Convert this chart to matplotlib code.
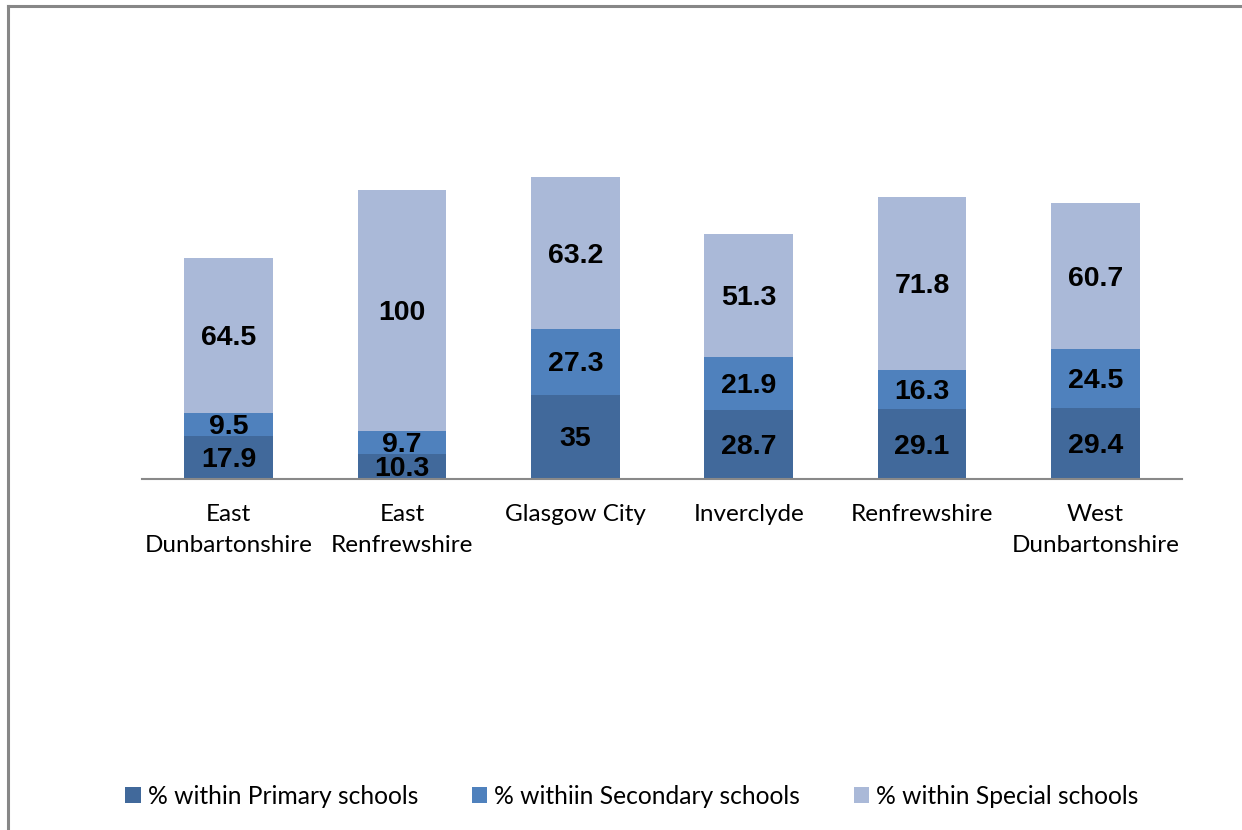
import matplotlib.pyplot as plt
import numpy as np
from matplotlib.lines import Line2D
from matplotlib.patches import Patch
from matplotlib.transforms import ScaledTranslation

areas = ['East\nDunbartonshire', 'East\nRenfrewshire', 'Glasgow City',
         'Inverclyde', 'Renfrewshire', 'West\nDunbartonshire']
primary = [17.9, 10.3, 35, 28.7, 29.1, 29.4]
secondary = [9.5, 9.7, 27.3, 21.9, 16.3, 24.5]
special = [64.5, 100, 63.2, 51.3, 71.8, 60.7]
series_names = ['% within Primary schools', '% withiin Secondary schools',
                '% within Special schools']
colours = ['#41699b', '#4f81bd', '#aab9d8']

W, H = 1242, 830
fig = plt.figure(figsize=(W / 100, H / 100), dpi=100)

# plot area: baseline sits at y=479 px, categories span x=142..1182 px
ax_left, ax_right = 142, 1182
ax_bottom, ax_top = 479, 40
ax = fig.add_axes([ax_left / W, 1 - ax_bottom / H,
                   (ax_right - ax_left) / W, (ax_bottom - ax_top) / H])

# nudge the value labels a couple of pixels down
label_shift = ax.transData + ScaledTranslation(0, -2.5 / 100, fig.dpi_scale_trans)

x = np.arange(len(areas))
bottoms = np.zeros(len(areas))
for vals, col in zip([primary, secondary, special], colours):
    vals = np.array(vals, dtype=float)
    ax.bar(x, vals, width=0.51, bottom=bottoms, color=col,
           edgecolor='none', zorder=2)
    for xi, b, v in zip(x, bottoms, vals):
        ax.text(xi, b + v / 2, f'{v:g}', ha='center', va='center',
                fontsize=20.5, fontweight='bold', family='Liberation Sans',
                color='black', zorder=3, transform=label_shift)
    bottoms += vals

ax.set_xlim(-0.5, len(areas) - 0.5)
ax.set_ylim(0, (ax_bottom - ax_top) / 2.405)
for s in ['top', 'right', 'left']:
    ax.spines[s].set_visible(False)
ax.spines['bottom'].set_color('#898989')
ax.spines['bottom'].set_linewidth(1.5)
ax.set_yticks([])
ax.set_xticks(x)
ax.set_xticklabels(areas, fontsize=17.5, family='Lato', linespacing=1.6)
ax.tick_params(axis='x', length=0, pad=18)

handles = [Patch(facecolor=c, edgecolor='none') for c in colours]
leg = fig.legend(handles, series_names, loc='center', ncol=3,
                 bbox_to_anchor=(632 / W, 1 - 796 / H), frameon=False,
                 prop={'family': 'Lato', 'size': 17.7},
                 handlelength=0.62, handleheight=0.62, handletextpad=0.28,
                 columnspacing=2.2)

# grey frame lines along the top and left edges
fig.add_artist(Line2D([8 / W, 1], [1 - 6 / H, 1 - 6 / H], color='#878787',
                      lw=2.2, transform=fig.transFigure))
fig.add_artist(Line2D([8 / W, 8 / W], [0, 1 - 6 / H], color='#878787',
                      lw=2.2, transform=fig.transFigure))

fig.savefig('out.png', dpi=100, facecolor='white')
